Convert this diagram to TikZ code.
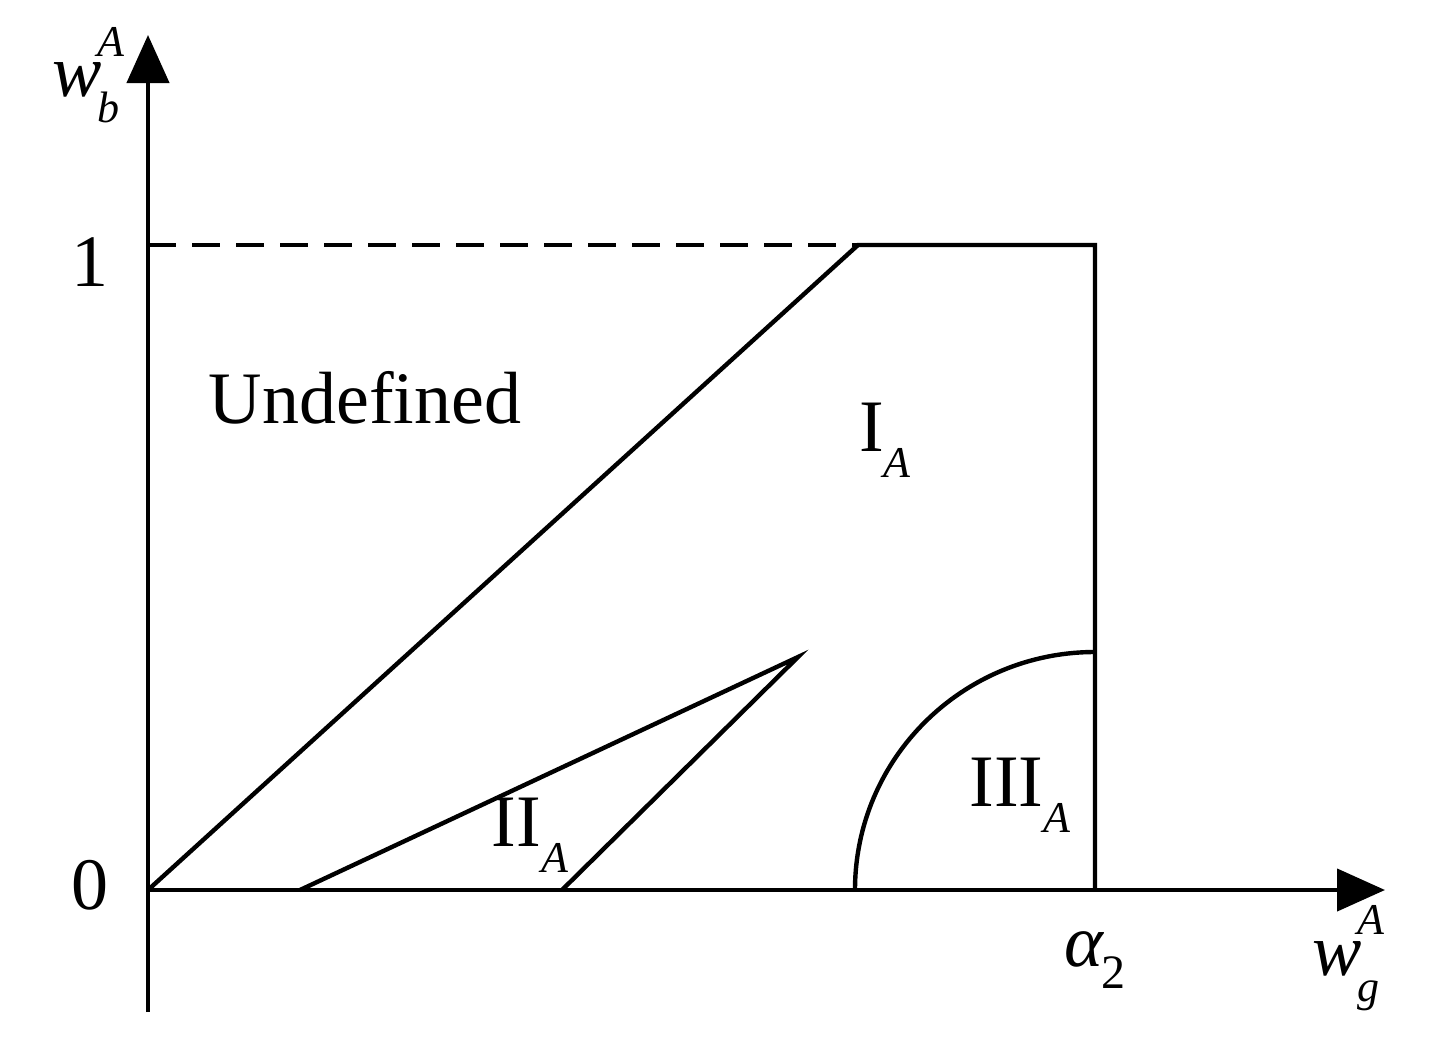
\documentclass[tikz,border=0pt]{standalone}
\usepackage{fontspec}
\setmainfont{Liberation Serif}
\usetikzlibrary{arrows.meta}
\newcommand{\mysb}[1]{\raisebox{-0.35em}{\fontsize{22}{24}\selectfont\itshape #1}}
\newcommand{\mysp}[1]{\raisebox{0.55em}{\fontsize{22}{24}\selectfont\itshape #1}}
\begin{document}
\begin{tikzpicture}[x=0.5pt,y=-0.5pt,line width=2.2pt,
 ax/.style={-{Triangle[length=24pt,width=21pt]}},
 lab/.style={font=\fontsize{37}{42}\selectfont,inner sep=0pt}]
\useasboundingbox (0,0) rectangle (1440,1044);
\coordinate (O) at (148,890);
\coordinate (yb) at (148,1012);
\coordinate (yt) at (148,35);
\coordinate (xt) at (1385,890);
\coordinate (T) at (858,245);
\coordinate (Y1) at (148,245);
\coordinate (R) at (1095,245);
\coordinate (RB) at (1095,890);
\coordinate (P1) at (300,890);
\coordinate (P2) at (798,657);
\coordinate (P3) at (562,890);
\coordinate (A0) at (855,890);
\draw[ax] (yb) -- (yt);
\draw[ax] (O) -- (xt);
\draw[dashed,dash pattern=on 14pt off 8pt] (Y1) -- (T);
\draw (O) -- (T) -- (R) -- (RB);
\draw (P1) -- (P2) -- (P3);
\draw (A0) arc[start angle=180,end angle=270,x radius=240,y radius=238];
\node[lab] (one) at (90,262) {1};
\node[lab] (zero) at (90,885) {0};
\node[lab] (und) at (365,398) {Undefined};
\node[lab] (I) at (885,440) {I\mysb{A}};
\node[lab] (II) at (530,835) {II\mysb{A}};
\node[lab] (III) at (1020,795) {III\mysb{A}};
\node[lab] (al) at (1095,960) {\itshape α\kern-1pt\raisebox{-0.3em}{\fontsize{24}{26}\selectfont\upshape 2}};
\node[lab] (wg) at (1350,958) {\itshape w\kern-2pt\rlap{\mysp{A}}\mysb{g}\kern4pt};
\node[lab] (wb) at (90,75) {\itshape w\kern-2pt\rlap{\mysp{A}}\mysb{b}\kern4pt};
\end{tikzpicture}
\end{document}
